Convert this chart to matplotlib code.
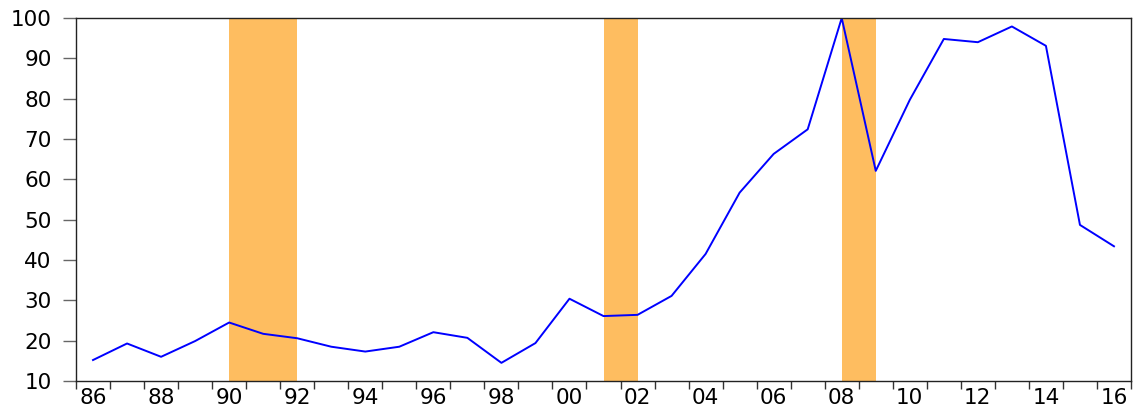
import matplotlib
matplotlib.use("Agg")
import matplotlib.pyplot as plt
import numpy as np

years = list(range(1986, 2017))
values = [15.2, 19.3, 16.0, 19.9, 24.5, 21.7, 20.6, 18.5, 17.3, 18.5,
          22.1, 20.7, 14.5, 19.4, 30.4, 26.1, 26.4, 31.1, 41.5, 56.7,
          66.3, 72.4, 100.0, 62.1, 79.7, 94.8, 94.0, 97.9, 93.1, 48.7, 43.4]
shade_start = [1990.5, 2001.5, 2008.5]
shade_end = [1992.5, 2002.5, 2009.5]
ytick_vals = [10, 20, 30, 40, 50, 60, 70, 80, 90, 100]
xlabel_years = list(range(1986, 2017, 2))
xlabels = [f"{y % 100:02d}" for y in xlabel_years]

fig = plt.figure(figsize=(11.35, 4.08), dpi=100)
ax = fig.add_axes([76/1135, 27/408, (1131-76)/1135, (381-18)/408])

for s, e in zip(shade_start, shade_end):
    ax.axvspan(s, e, color="#FEBD60", lw=0, zorder=0)

x = np.array(years) + 0.5
ax.plot(x, values, color="#0000FF", lw=1.4, zorder=2)

ax.set_xlim(1986, 2017)
ax.set_ylim(10, 100)

ax.set_yticks(ytick_vals)
ax.set_yticklabels([str(v) for v in ytick_vals])
ax.tick_params(axis="y", direction="out", length=9.5, width=1, color="#666666",
               pad=8, labelsize=15.5)

ax.set_xticks(list(range(1986, 2018)))
ax.set_xticklabels([])
ax.set_xticks([y + 0.5 for y in xlabel_years], minor=True)
ax.set_xticklabels(xlabels, minor=True)
ax.tick_params(axis="x", which="major", direction="out", length=5.5, width=1, color="#333333")
ax.tick_params(axis="x", which="minor", length=0, pad=5, labelsize=15.5)

for sp in ax.spines.values():
    sp.set_linewidth(1.0)
    sp.set_color("#222222")

fig.savefig("out.png", dpi=100)
